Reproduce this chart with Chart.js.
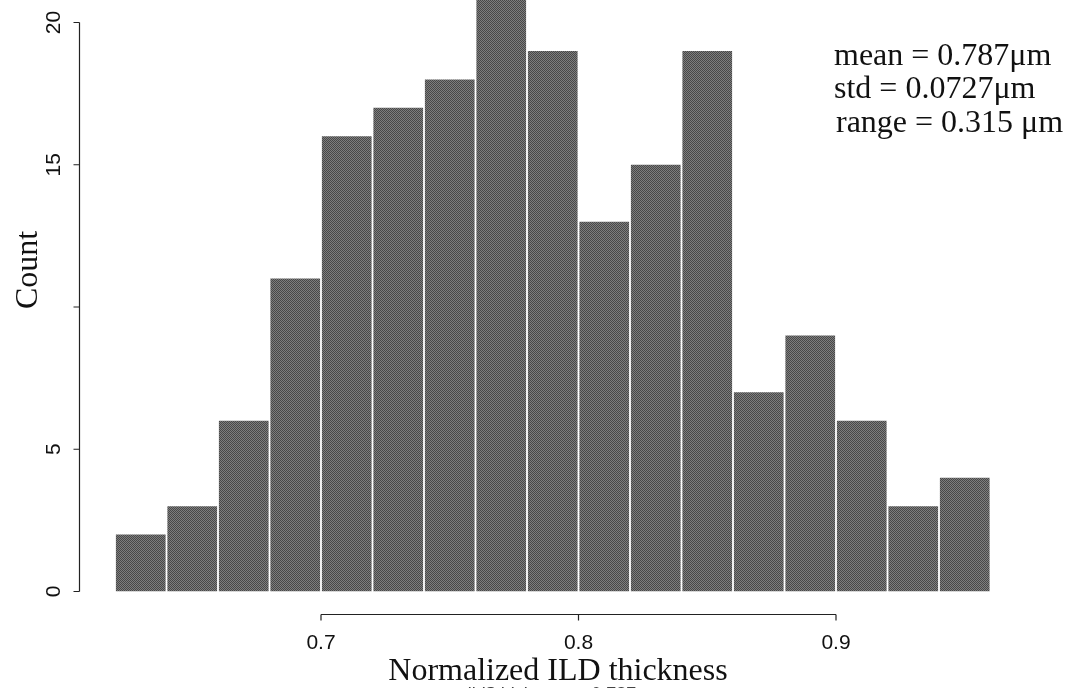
<!DOCTYPE html>
<html>
<head>
<meta charset="utf-8">
<script src="https://cdn.jsdelivr.net/npm/chart.js@4/dist/chart.umd.min.js"></script>
<style>
  html, body { margin: 0; padding: 0; background: #fff; }
  #histChart { display: block; }
</style>
</head>
<body>
<canvas id="histChart" width="1072" height="688"></canvas>
<script>
// histogram bins (left edges) and counts
const binStarts = [0.62, 0.64, 0.66, 0.68, 0.70, 0.72, 0.74, 0.76, 0.78, 0.80, 0.82, 0.84, 0.86, 0.88, 0.90, 0.92, 0.94];
const counts = [2, 3, 6, 11, 16, 17, 18, 21, 19, 13, 15, 19, 7, 9, 6, 3, 4];
const binWidth = 0.02;

const xTicks = [0.7, 0.8, 0.9];
const xTickLabels = ['0.7', '0.8', '0.9'];
const yTicks = [0, 5, 10, 15, 20];
const yTickLabels = ['0', '5', '', '15', '20']; // R drops the "10" label

const statLines = ['mean = 0.787\u03bcm', 'std = 0.0727\u03bcm', 'range = 0.315 \u03bcm'];
const xTitle = 'Normalized ILD thickness';
const yTitle = 'Count';
const hiddenCaption = 'ild$thickness = 0.787';

const canvas = document.getElementById('histChart');
const ctx = canvas.getContext('2d');

// fine checker texture like the printed grey fill
const tile = document.createElement('canvas');
tile.width = 2; tile.height = 2;
const t = tile.getContext('2d');
t.fillStyle = '#7e7e7e'; t.fillRect(0, 0, 2, 2);
t.fillStyle = '#484848'; t.fillRect(0, 0, 1, 1); t.fillRect(1, 1, 1, 1);
const barFill = ctx.createPattern(tile, 'repeat');

function drawText(c, text, x, y, font, opts) {
  opts = opts || {};
  c.save();
  c.translate(x, y);
  if (opts.rotate) c.rotate(opts.rotate);
  c.font = font;
  c.textAlign = opts.align || 'left';
  c.textBaseline = 'alphabetic';
  c.fillStyle = opts.color || '#111';
  c.fillText(text, 0, 0);
  c.restore();
}

// R-style axes: lines only span the tick range
const rAxes = {
  id: 'rAxes',
  afterDraw(chart) {
    const c = chart.ctx;
    const {x, y} = chart.scales;
    c.save();
    c.strokeStyle = '#222';
    c.lineWidth = 1.2;

    // y axis
    const ax = 79.5;
    c.beginPath();
    c.moveTo(ax, y.getPixelForValue(yTicks[0]));
    c.lineTo(ax, y.getPixelForValue(yTicks[yTicks.length - 1]));
    yTicks.forEach(v => {
      const py = y.getPixelForValue(v);
      c.moveTo(ax, py);
      c.lineTo(ax - 6, py);
    });
    c.stroke();
    yTicks.forEach((v, i) => {
      if (!yTickLabels[i]) return;
      drawText(c, yTickLabels[i], 60, y.getPixelForValue(v), '21px "Liberation Sans"',
        {rotate: -Math.PI / 2, align: 'center'});
    });

    // x axis
    const ay = 614.5;
    c.beginPath();
    c.moveTo(x.getPixelForValue(xTicks[0]), ay);
    c.lineTo(x.getPixelForValue(xTicks[xTicks.length - 1]), ay);
    xTicks.forEach(v => {
      const px = x.getPixelForValue(v);
      c.moveTo(px, ay);
      c.lineTo(px, ay + 6);
    });
    c.stroke();
    xTicks.forEach((v, i) => {
      drawText(c, xTickLabels[i], x.getPixelForValue(v), 649, '21px "Liberation Sans"', {align: 'center'});
    });

    // titles
    drawText(c, hiddenCaption, 552, 700, '18px "Liberation Sans"', {align: 'center', color: '#444'});
    drawText(c, xTitle, 558, 680, '32px "Liberation Serif"', {align: 'center'});
    drawText(c, yTitle, 37, 270, '32px "Liberation Serif"', {rotate: -Math.PI / 2, align: 'center'});

    // summary stats
    const statX = [834, 834, 836];
    const statY = [65, 98, 132];
    statLines.forEach((s, i) => {
      drawText(c, s, statX[i], statY[i], '32px "Liberation Serif"', {});
    });
    c.restore();
  }
};

new Chart(ctx, {
  type: 'bar',
  data: {
    datasets: [{
      label: 'Count',
      data: binStarts.map((b, i) => ({x: b + binWidth / 2, y: counts[i]})),
      backgroundColor: barFill,
      borderWidth: 0,
      barPercentage: 1,
      categoryPercentage: 0.965,
    }],
  },
  options: {
    responsive: false,
    animation: false,
    devicePixelRatio: 1,
    layout: {padding: {left: 80, right: 0, top: 0, bottom: 96.5}},
    plugins: {
      legend: {display: false},
      tooltip: {enabled: false},
    },
    scales: {
      x: {type: 'linear', display: false, min: 0.60641, max: 0.99165, offset: false},
      y: {display: false, min: 0, max: 20.79},
    },
  },
  plugins: [rAxes],
});
</script>
</body>
</html>
